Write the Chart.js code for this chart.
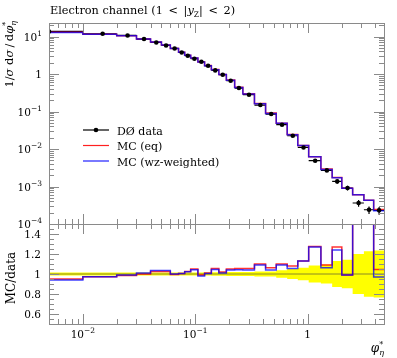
<!DOCTYPE html>
<html lang="en">
<head>
<meta charset="UTF-8">
<title>Electron channel phi* distribution</title>
<script src="https://cdn.jsdelivr.net/npm/chart.js"></script>
<style>
  body { margin: 0; background: #fff; }
  #wrap { position: relative; width: 397px; height: 358px; }
  canvas { position: absolute; left: 0; }
</style>
</head>
<body>
<div id="wrap">
  <canvas id="mainChart" width="397" height="232" style="top:0"></canvas>
  <canvas id="ratioChart" width="397" height="142" style="top:216px"></canvas>
</div>
<script>
// phi*_eta bin edges (first bin starts at 0, shown from the axis minimum)
const binEdges = [0, 0.01, 0.02, 0.03, 0.04, 0.05, 0.06, 0.071, 0.0805, 0.091, 0.1055, 0.121, 0.139, 0.162,
  0.189, 0.224, 0.265, 0.336, 0.422, 0.525, 0.657, 0.816, 1.02, 1.31, 1.65, 2.01, 2.51, 3.16, 3.86, 4.77];

// 1/sigma dsigma/dphi*
const dataVals = [13.7, 11.9, 10.7, 8.58, 6.96, 5.79, 4.82, 3.77, 3.08, 2.56, 2.13, 1.66, 1.25, 0.958, 0.662,
  0.423, 0.281, 0.149, 0.0858, 0.0445, 0.0226, 0.0110, 0.00488, 0.00269, 0.00137, 0.000912, 0.000363, 0.00024, 0.000231];
// relative data uncertainty (yellow band)
const dataRelErr = [0.015, 0.015, 0.015, 0.015, 0.015, 0.015, 0.015, 0.015, 0.015, 0.015, 0.016, 0.016, 0.017,
  0.018, 0.019, 0.02, 0.021, 0.025, 0.026, 0.038, 0.05, 0.063, 0.085, 0.095, 0.13, 0.142, 0.2, 0.228, 0.235];
const mcEq = [13.0, 11.58, 10.54, 8.58, 7.14, 5.94, 4.80, 3.79, 3.16, 2.69, 2.11, 1.68, 1.32, 0.977, 0.695,
  0.446, 0.296, 0.164, 0.0912, 0.0490, 0.0244, 0.01243, 0.00622, 0.00293, 0.00174, 0.000903, 0.000603, 0.000427, 0.000242];
const mcWz = [12.88, 11.58, 10.59, 8.67, 7.21, 6.00, 4.82, 3.79, 3.15, 2.67, 2.09, 1.67, 1.31, 0.968, 0.688,
  0.441, 0.292, 0.162, 0.0892, 0.0485, 0.0239, 0.01243, 0.0062, 0.00286, 0.0017, 0.000903, 0.000603, 0.000427, 0.000224];
// MC / data
const ratioEq = [0.95, 0.973, 0.985, 1.0, 1.026, 1.026, 0.995, 1.006, 1.026, 1.05, 0.99, 1.01, 1.055, 1.02, 1.05,
  1.055, 1.055, 1.10, 1.063, 1.10, 1.08, 1.13, 1.275, 1.09, 1.27, 0.99, 1.66, 1.78, 1.046];
const ratioWz = [0.94, 0.973, 0.99, 1.01, 1.036, 1.036, 1.0, 1.006, 1.023, 1.043, 0.98, 1.006, 1.045, 1.01, 1.04,
  1.043, 1.04, 1.09, 1.04, 1.09, 1.056, 1.13, 1.27, 1.063, 1.24, 0.99, 1.66, 1.78, 0.97];

const ratioTicks = [0.6, 0.8, 1, 1.2, 1.4];
const X_MIN = 0.005, X_MAX = 4.77;

const SERIF = '"DejaVu Serif", "Liberation Serif", serif';
const AXIS_GREY = '#8a8a8a';

function stepPts(vals) {
  const pts = vals.map((v, i) => ({ x: Math.max(binEdges[i], X_MIN), y: v }));
  pts.push({ x: binEdges[vals.length], y: vals[vals.length - 1] });
  return pts;
}
const centers = dataVals.map((v, i) => ({ x: Math.max((binEdges[i] + binEdges[i + 1]) / 2, X_MIN), y: v }));
const bandLo = dataRelErr.map(e => 1 - e);
const bandHi = dataRelErr.map(e => 1 + e);

// text with sub/superscripts; parts with stack:true share x with the next part
function fontOf(p) { return (p.it ? 'italic ' : '') + p.size + 'px ' + SERIF; }
function drawRich(ctx, parts, x, y, align) {
  parts.forEach(p => { ctx.font = fontOf(p); p.w = ctx.measureText(p.t).width; });
  let total = 0;
  for (let i = 0; i < parts.length; i++) {
    if (parts[i].stack) { total += Math.max(parts[i].w, parts[i + 1].w); i++; } else total += parts[i].w;
  }
  let cx = align === 'right' ? x - total : align === 'center' ? x - total / 2 : x;
  ctx.textAlign = 'left';
  ctx.textBaseline = 'alphabetic';
  ctx.fillStyle = '#000';
  for (let i = 0; i < parts.length; i++) {
    const p = parts[i];
    ctx.font = fontOf(p);
    ctx.fillText(p.t, cx, y + (p.dy || 0));
    if (p.stack) {
      const q = parts[i + 1];
      ctx.font = fontOf(q);
      ctx.fillText(q.t, cx, y + (q.dy || 0));
      cx += Math.max(p.w, q.w);
      i++;
    } else cx += p.w;
  }
}
function powParts(e) {
  if (e === 0) return [{ t: '1', size: 10.5 }];
  return [{ t: '10', size: 10.5 }, { t: (e < 0 ? '\u2212' : '') + Math.abs(e), size: 7.5, dy: -5 }];
}
function logTicks(min, max) {
  const out = [];
  for (let e = Math.floor(Math.log10(min)); e <= Math.ceil(Math.log10(max)); e++) {
    for (let m = 1; m < 10; m++) {
      const v = m * Math.pow(10, e);
      if (v >= min * 0.999 && v <= max * 1.001) out.push({ v, major: m === 1, e });
    }
  }
  return out;
}
const px = v => Math.round(v) + 0.5;

function drawFrameTicks(chart, yTickList) {
  const { ctx, chartArea: a } = chart;
  const xs = chart.scales.x, ys = chart.scales.y;
  ctx.save();
  ctx.strokeStyle = AXIS_GREY;
  ctx.lineWidth = 1;
  ctx.beginPath();
  logTicks(X_MIN, X_MAX).forEach(t => {
    const x = px(xs.getPixelForValue(t.v));
    const len = t.major ? 10 : 5;
    ctx.moveTo(x, a.top); ctx.lineTo(x, a.top + len);
    ctx.moveTo(x, a.bottom); ctx.lineTo(x, a.bottom - len);
  });
  yTickList.forEach(t => {
    const y = px(ys.getPixelForValue(t.v));
    const len = t.major ? 10 : 5;
    ctx.moveTo(a.left, y); ctx.lineTo(a.left + len, y);
    ctx.moveTo(a.right, y); ctx.lineTo(a.right - len, y);
  });
  ctx.stroke();
  ctx.strokeRect(px(a.left), px(a.top), Math.round(a.right) - Math.round(a.left), Math.round(a.bottom) - Math.round(a.top));
  ctx.restore();
}

const mainDecor = {
  id: 'mainDecor',
  beforeDatasetsDraw(chart) {
    // data x-bars and error bars
    const { ctx, chartArea: a } = chart;
    const xs = chart.scales.x, ys = chart.scales.y;
    ctx.save();
    ctx.beginPath(); ctx.rect(a.left, a.top, a.width, a.height); ctx.clip();
    ctx.strokeStyle = '#000';
    ctx.lineWidth = 1.2;
    ctx.beginPath();
    dataVals.forEach((v, i) => {
      const y = ys.getPixelForValue(v);
      ctx.moveTo(xs.getPixelForValue(Math.max(binEdges[i], X_MIN)), y);
      ctx.lineTo(xs.getPixelForValue(binEdges[i + 1]), y);
      const xc = xs.getPixelForValue(centers[i].x);
      ctx.moveTo(xc, ys.getPixelForValue(v * (1 - dataRelErr[i])));
      ctx.lineTo(xc, ys.getPixelForValue(v * (1 + dataRelErr[i])));
    });
    ctx.stroke();
    ctx.restore();
  },
  afterDraw(chart) {
    const { ctx } = chart;
    const ys = chart.scales.y;
    const yt = logTicks(1e-4, 23);
    drawFrameTicks(chart, yt);
    ctx.save();
    yt.filter(t => t.major).forEach(t => {
      drawRich(ctx, powParts(t.e), 42, ys.getPixelForValue(t.v) + 4, 'right');
    });
    // title
    drawRich(ctx, [
      { t: 'Electron channel (1\u2002<\u2002|', size: 11.3 },
      { t: 'y', size: 11.3, it: true },
      { t: 'Z', size: 7.5, dy: 2.5 },
      { t: '|\u2002<\u20022)', size: 11.3 }
    ], 50, 14, 'left');
    // y title
    ctx.save();
    ctx.translate(13, 21);
    ctx.rotate(-Math.PI / 2);
    drawRich(ctx, [
      { t: '1/', size: 11.5 }, { t: '\u03c3', size: 11.5, it: true },
      { t: ' d', size: 11.5 }, { t: '\u03c3', size: 11.5, it: true },
      { t: '\u2009/\u2009d', size: 11.5 }, { t: '\u03c6', size: 11.5, it: true },
      { t: '*', size: 8, dy: -5, stack: true }, { t: '\u03b7', size: 8, it: true, dy: 3 }
    ], 0, 0, 'right');
    ctx.restore();
    // legend
    const rows = [
      { label: 'D\u00d8 data', color: '#000', dot: true },
      { label: 'MC (eq)', color: '#ff2020' },
      { label: 'MC (wz-weighted)', color: '#2020ff' }
    ];
    rows.forEach((r, i) => {
      const y = 130 + i * 15.5;
      ctx.strokeStyle = r.color;
      ctx.lineWidth = 1.2;
      ctx.beginPath(); ctx.moveTo(83, y); ctx.lineTo(109, y); ctx.stroke();
      if (r.dot) { ctx.fillStyle = '#000'; ctx.beginPath(); ctx.arc(96, y, 2.3, 0, Math.PI * 2); ctx.fill(); }
      drawRich(ctx, [{ t: r.label, size: 11 }], 117, y + 4.5, 'left');
    });
    ctx.restore();
  }
};

const ratioDecor = {
  id: 'ratioDecor',
  beforeDatasetDraw(chart, args) {
    // reference line at MC/data = 1, drawn over the band
    if (args.index !== 1) return;
    const { ctx, chartArea: a } = chart;
    const y = chart.scales.y.getPixelForValue(1);
    ctx.save();
    ctx.strokeStyle = 'rgba(60,60,60,0.6)';
    ctx.lineWidth = 1;
    ctx.beginPath(); ctx.moveTo(a.left, y); ctx.lineTo(a.right, y); ctx.stroke();
    ctx.restore();
  },
  afterDraw(chart) {
    const { ctx, chartArea: a } = chart;
    const xs = chart.scales.x, ys = chart.scales.y;
    const yt = [];
    for (let k = 11; k <= 29; k++) yt.push({ v: k * 0.05, major: k % 4 === 0 });
    drawFrameTicks(chart, yt);
    ctx.save();
    ratioTicks.forEach(v => {
      drawRich(ctx, [{ t: String(v), size: 10.5 }], 41, ys.getPixelForValue(v) + 4, 'right');
    });
    [-2, -1, 0].forEach(e => {
      drawRich(ctx, powParts(e), xs.getPixelForValue(Math.pow(10, e)), a.bottom + 14, 'center');
    });
    // x title
    drawRich(ctx, [
      { t: '\u03c6', size: 12, it: true },
      { t: '*', size: 8, dy: -5, stack: true }, { t: '\u03b7', size: 8, it: true, dy: 3 }
    ], 384, a.bottom + 28, 'right');
    // y title
    ctx.translate(15, 62);
    ctx.rotate(-Math.PI / 2);
    drawRich(ctx, [{ t: 'MC/data', size: 12 }], 0, 0, 'center');
    ctx.restore();
  }
};

new Chart(document.getElementById('mainChart'), {
  type: 'line',
  data: {
    datasets: [
      { label: 'D\u00d8 data', data: centers, showLine: false, pointRadius: 2.3, pointBorderWidth: 0,
        pointBackgroundColor: '#000', borderColor: '#000' },
      { label: 'MC (wz-weighted)', data: stepPts(mcWz), stepped: true, borderColor: 'rgba(0,0,255,0.75)',
        borderWidth: 1.5, pointRadius: 0, fill: false },
      { label: 'MC (eq)', data: stepPts(mcEq), stepped: true, borderColor: 'rgba(255,0,0,0.8)',
        borderWidth: 1.5, pointRadius: 0, fill: false }
    ]
  },
  options: {
    responsive: false,
    animation: false,
    layout: { padding: { left: 49, right: 13, top: 23, bottom: 8 } },
    plugins: { legend: { display: false }, tooltip: { enabled: false } },
    scales: {
      x: { type: 'logarithmic', min: X_MIN, max: X_MAX, display: false },
      y: { type: 'logarithmic', min: 1e-4, max: 23, display: false }
    }
  },
  plugins: [mainDecor]
});

new Chart(document.getElementById('ratioChart'), {
  type: 'line',
  data: {
    datasets: [
      { label: 'MC (wz-weighted)', data: stepPts(ratioWz), stepped: true, borderColor: 'rgba(0,0,255,0.75)',
        borderWidth: 1.5, pointRadius: 0, fill: false },
      { label: 'MC (eq)', data: stepPts(ratioEq), stepped: true, borderColor: 'rgba(255,0,0,0.8)',
        borderWidth: 1.5, pointRadius: 0, fill: false },
      { label: 'band low', data: stepPts(bandLo), stepped: true, borderWidth: 0, pointRadius: 0, fill: false },
      { label: 'band high', data: stepPts(bandHi), stepped: true, borderWidth: 0, pointRadius: 0,
        fill: '-1', backgroundColor: '#ffff00' }
    ]
  },
  options: {
    responsive: false,
    animation: false,
    layout: { padding: { left: 49, right: 13, top: 8, bottom: 34 } },
    plugins: { legend: { display: false }, tooltip: { enabled: false } },
    scales: {
      x: { type: 'logarithmic', min: X_MIN, max: X_MAX, display: false },
      y: { type: 'linear', min: 0.5, max: 1.5, display: false }
    }
  },
  plugins: [ratioDecor]
});
</script>
</body>
</html>
